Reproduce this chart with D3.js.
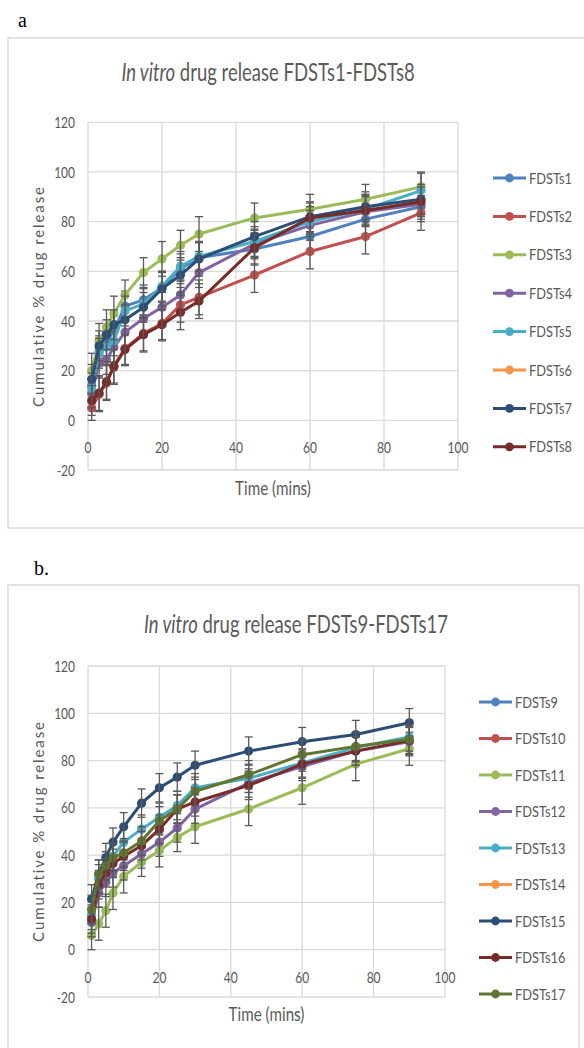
<!DOCTYPE html>
<html>
<head>
<meta charset="utf-8">
<script src="https://cdn.jsdelivr.net/npm/d3@7"></script>
<style>
  body { margin: 0; background: #fff; }
  text { font-family: Lato, "Open Sans", sans-serif; fill: #595959; }
</style>
</head>
<body>
<div id="chart"></div>
<script>
// time points (mins)
const time = [1, 3, 5, 7, 10, 15, 20, 25, 30, 45, 60, 75, 90];
const xTicks = [0, 20, 40, 60, 80, 100];
const yTicks = [-20, 0, 20, 40, 60, 80, 100, 120];

// chart a : FDSTs1 - FDSTs8
const namesA = ['FDSTs1', 'FDSTs2', 'FDSTs3', 'FDSTs4', 'FDSTs5', 'FDSTs6', 'FDSTs7', 'FDSTs8'];
const valuesA = [
    [14, 28, 32, 36, 46, 48.5, 53.5, 61, 65.5, 69, 74, 81, 86],
    [5, 10.5, 15, 22, 29, 35, 39, 46.5, 49.5, 58.5, 68, 74, 83.5],
    [20, 32, 37.5, 43, 50.5, 59.5, 65, 70.5, 75, 81.5, 85, 89, 94],
    [11, 23, 24.5, 29.5, 35.5, 41, 45.5, 50.5, 59.5, 71, 78.5, 84, 87],
    [13, 27, 29.5, 32, 44, 47, 54, 62, 66, 72, 80, 85, 92.5],
    [],
    [16.5, 30, 34.5, 38.5, 40.5, 45.5, 53, 58.5, 65, 74, 82, 86, 89],
    [8, 11, 15.5, 21.5, 28.5, 34.5, 38.5, 43.5, 48, 69.5, 81.5, 84.5, 88]
];
const errorsA = [
    [6, 6, 6, 6, 6, 6, 6, 6, 6, 6, 6, 6, 6],
    [5, 7, 7, 7, 7, 7, 7, 7, 7, 7, 7, 7, 7],
    [7, 7, 7, 7, 6, 6, 7, 6, 7, 6, 6, 6, 6],
    [6, 6, 6, 6, 6, 6, 6, 6, 6, 6, 6, 6, 6],
    [6, 6, 6, 6, 6, 6, 6, 6, 6, 6, 6, 6, 7],
    [],
    [6, 6, 6, 6, 6, 6, 7, 7, 7, 6, 6, 6, 6],
    [6, 7, 7, 7, 6, 7, 6, 7, 7, 7, 6, 6, 6]
];

// chart b : FDSTs9 - FDSTs17
const namesB = ['FDSTs9', 'FDSTs10', 'FDSTs11', 'FDSTs12', 'FDSTs13', 'FDSTs14', 'FDSTs15', 'FDSTs16', 'FDSTs17'];
const valuesB = [
    [],
    [],
    [6, 11, 16.5, 24, 31, 37, 42, 47.5, 52, 59.5, 68.5, 78.5, 85],
    [11.5, 24, 28.5, 32.5, 35.5, 40.5, 45.5, 51.5, 59.5, 70.5, 77.5, 84, 88],
    [14.5, 30, 35.5, 39.5, 45.5, 51, 56, 61, 68.5, 72.5, 79, 85.5, 90],
    [],
    [21.5, 32, 39, 45.5, 52, 62, 68.5, 73, 78, 84, 88, 91, 96],
    [13, 27.5, 32.5, 36.5, 39.5, 44, 51, 59.5, 62.5, 69.5, 78.5, 84, 88.5],
    [17, 32, 35.5, 39, 41, 46, 54.5, 59.5, 67, 74, 82.5, 86, 89]
];
const errorsB = [
    [],
    [],
    [6, 7, 7, 7, 7, 6, 7, 6, 7, 7, 7, 7, 7],
    [6, 6, 6, 6, 6, 6, 6, 6, 6, 6, 6, 6, 6],
    [6, 6, 6, 6, 6, 6, 6, 6, 6, 6, 6, 6, 6],
    [],
    [6, 6, 6, 6, 6, 6, 6, 6, 6, 6, 6, 6, 6],
    [6, 6, 6, 6, 6, 6, 6, 6, 6, 6, 6, 6, 6],
    [6, 6, 6, 6, 6, 6, 6, 6, 6, 6, 6, 6, 6]
];

const colors = ['#4F81BD', '#C0504D', '#9BBB59', '#8064A2', '#4BACC6', '#F79646', '#2C4D75', '#772C2A', '#5F7530'];

const svg = d3.select('#chart').append('svg')
    .attr('width', 584)
    .attr('height', 1048);

// squeeze text horizontally like the (narrow) original
function squish(sel, x, y, sx) {
    return sel.attr('transform', `translate(${x},${y}) scale(${sx},1)`);
}

function drawChart(cfg) {
    const g = svg.append('g');

    // outer frame
    g.append('rect')
        .attr('x', cfg.box[0]).attr('y', cfg.box[1])
        .attr('width', cfg.box[2]).attr('height', cfg.box[3])
        .attr('fill', 'none')
        .attr('stroke', '#d9d9d9')
        .attr('stroke-width', 1.5);

    g.append('text')
        .attr('x', cfg.tag[0]).attr('y', cfg.tag[1])
        .style('font-family', '"Liberation Serif", serif')
        .style('font-size', '20px')
        .style('fill', '#000')
        .text(cfg.tagText);

    const x = d3.scaleLinear().domain([0, 100]).range(cfg.xRange);
    const y = d3.scaleLinear().domain([-20, 120]).range(cfg.yRange);

    // grid
    g.append('g').selectAll('line').data(yTicks).enter().append('line')
        .attr('x1', x(0)).attr('x2', x(100))
        .attr('y1', d => y(d)).attr('y2', d => y(d))
        .attr('stroke', '#d9d9d9').attr('stroke-width', 1.3);
    g.append('g').selectAll('line').data(xTicks).enter().append('line')
        .attr('x1', d => x(d)).attr('x2', d => x(d))
        .attr('y1', y(-20)).attr('y2', y(120))
        .attr('stroke', '#d9d9d9').attr('stroke-width', 1.3);

    // tick labels
    g.append('g').selectAll('text').data(yTicks).enter().append('text')
        .attr('text-anchor', 'end')
        .attr('dy', '0.35em')
        .style('font-size', '16px')
        .each(function(d) { squish(d3.select(this), x(0) - 13, y(d), 0.75); })
        .text(d => d);
    g.append('g').selectAll('text').data(xTicks).enter().append('text')
        .attr('text-anchor', 'middle')
        .style('font-size', '16px')
        .each(function(d) { squish(d3.select(this), x(d), y(0) + 33, 0.75); })
        .text(d => d);

    // titles
    const title = g.append('text')
        .attr('text-anchor', 'middle')
        .style('font-size', '25px');
    squish(title, cfg.title[0], cfg.title[1], 0.74);
    title.append('tspan').style('font-style', 'italic').text('In vitro');
    title.append('tspan').text(' drug release ' + cfg.titleText);

    squish(g.append('text'), (x(0) + x(100)) / 2, cfg.xTitleY, 0.8)
        .attr('text-anchor', 'middle')
        .style('font-size', '19px')
        .text('Time (mins)');

    g.append('text')
        .attr('transform', `translate(44,${cfg.yTitleY}) rotate(-90)`)
        .attr('text-anchor', 'middle')
        .style('font-size', '15px')
        .style('letter-spacing', '1.9px')
        .text('Cumulative % drug release');

    // series
    const line = d3.line().x(d => x(d.t)).y(d => y(d.v));
    cfg.values.forEach((vals, i) => {
        const pts = vals.map((v, j) => ({ t: time[j], v: v, e: cfg.errors[i][j] }));
        const s = g.append('g');
        s.append('path')
            .datum(pts)
            .attr('d', line)
            .attr('fill', 'none')
            .attr('stroke', colors[i])
            .attr('stroke-width', 3)
            .attr('stroke-linejoin', 'round');
        s.selectAll('circle').data(pts).enter().append('circle')
            .attr('cx', d => x(d.t)).attr('cy', d => y(d.v))
            .attr('r', 4.6)
            .attr('fill', colors[i]);
        const eb = s.selectAll('.err').data(pts).enter().append('g')
            .attr('class', 'err')
            .attr('stroke', '#595959')
            .attr('stroke-width', 1.3);
        eb.append('line')
            .attr('x1', d => x(d.t)).attr('x2', d => x(d.t))
            .attr('y1', d => y(d.v - d.e)).attr('y2', d => y(d.v + d.e));
        eb.append('line')
            .attr('x1', d => x(d.t) - 4).attr('x2', d => x(d.t) + 4)
            .attr('y1', d => y(d.v - d.e)).attr('y2', d => y(d.v - d.e));
        eb.append('line')
            .attr('x1', d => x(d.t) - 4).attr('x2', d => x(d.t) + 4)
            .attr('y1', d => y(d.v + d.e)).attr('y2', d => y(d.v + d.e));
    });

    // legend
    const leg = g.append('g').selectAll('g').data(cfg.names).enter().append('g')
        .attr('transform', (d, i) => `translate(${cfg.legend[0]},${cfg.legend[1] + i * cfg.legend[2]})`);
    leg.append('line')
        .attr('x1', 0).attr('x2', 33)
        .attr('stroke', (d, i) => colors[i])
        .attr('stroke-width', 3);
    leg.append('circle')
        .attr('cx', 16.5).attr('r', 4.4)
        .attr('fill', (d, i) => colors[i]);
    leg.append('text')
        .attr('dy', '0.35em')
        .style('font-size', '16px')
        .each(function() { squish(d3.select(this), 36, 0, 0.8); })
        .text(d => d);
}

drawChart({
    box: [8, 38, 590, 490], tag: [18, 27], tagText: 'a',
    xRange: [88, 458], yRange: [470, 122.3],
    title: [268, 81], titleText: 'FDSTs1-FDSTs8',
    xTitleY: 495, yTitleY: 296,
    names: namesA, values: valuesA, errors: errorsA,
    legend: [493, 178, 38.4]
});

drawChart({
    box: [8, 585, 571, 480], tag: [34, 575], tagText: 'b.',
    xRange: [88, 445], yRange: [997, 666],
    title: [296, 633], titleText: 'FDSTs9-FDSTs17',
    xTitleY: 1021, yTitleY: 831,
    names: namesB, values: valuesB, errors: errorsB,
    legend: [479, 702, 36.5]
});
</script>
</body>
</html>
